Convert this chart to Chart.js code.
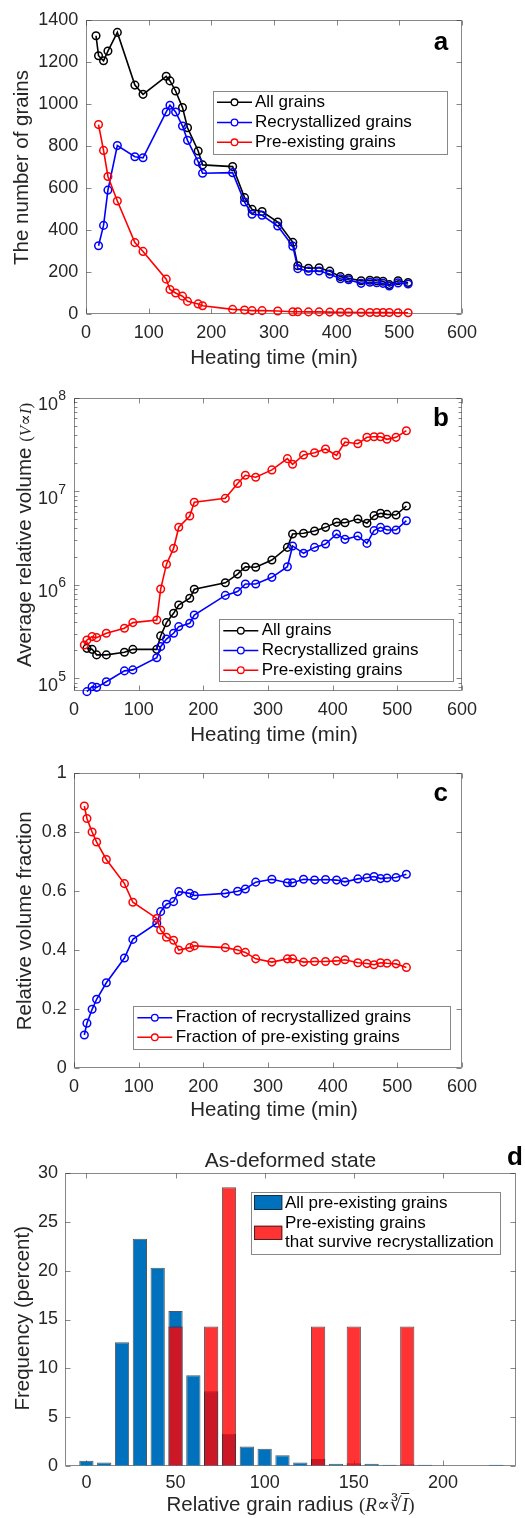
<!DOCTYPE html>
<html><head><meta charset="utf-8">
<script src="https://cdn.jsdelivr.net/npm/chart.js@4.4.1/dist/chart.umd.min.js"></script>
<style>
html,body{margin:0;padding:0;background:#fff;}
#wrap{position:relative;width:525px;height:1518px;overflow:hidden;background:#fff;}
canvas{position:absolute;left:0;}
</style></head><body>
<div id="wrap">
<canvas id="ca" width="525" height="372" style="top:0px"></canvas>
<canvas id="cb" width="525" height="372" style="top:372px"></canvas>
<canvas id="cc" width="525" height="376" style="top:744px"></canvas>
<canvas id="cd" width="525" height="398" style="top:1120px"></canvas>
</div>
<script>
// ---------------- data ----------------
const heatingTime = [16,20,28,35,50,78,91,128,134,143,154,162,179,186,234,253,265,281,306,330,338,355,372,389,406,419,439,453,464,474,484,498,514];

// panel a: number of grains
const grainsAll     = [1325,1230,1206,1252,1341,1090,1046,1132,1110,1062,983,887,776,710,702,554,498,488,438,341,230,218,220,204,178,170,158,161,158,156,140,158,150];
const grainsRecryst = [null,325,422,590,802,749,744,962,994,962,895,827,725,670,673,533,475,470,419,323,216,204,205,190,168,163,146,151,149,146,133,148,143];
const grainsPre     = [null,902,779,655,538,340,298,166,117,100,85,60,48,39,22,19,16,16,14,11,11,10,10,9,8,8,7,7,7,7,7,6,6];

// panel b: average relative volume
const volAll     = [null,2.09e5,2.04e5,1.78e5,1.78e5,1.90e5,2.04e5,2.04e5,2.84e5,3.94e5,4.95e5,6.08e5,7.17e5,8.95e5,1.05e6,1.30e6,1.56e6,1.54e6,1.84e6,2.51e6,3.49e6,3.55e6,3.76e6,4.11e6,4.65e6,4.61e6,5.05e6,4.54e6,5.48e6,5.81e6,5.66e6,5.57e6,6.95e6];
const volRecryst = [null,7.2e4,8.15e4,8.0e4,9.2e4,1.20e5,1.23e5,1.66e5,2.18e5,2.63e5,3.03e5,3.57e5,3.87e5,4.75e5,7.7e5,8.45e5,1.02e6,1.02e6,1.20e6,1.56e6,2.60e6,2.17e6,2.51e6,2.73e6,3.49e6,3.06e6,3.32e6,2.77e6,3.79e6,4.11e6,3.85e6,3.85e6,4.84e6];
const volPre     = [2.27e5,2.57e5,2.79e5,2.72e5,3.03e5,3.43e5,3.94e5,4.2e5,9.0e5,1.66e6,2.45e6,4.12e6,5.44e6,7.61e6,8.39e6,1.21e7,1.48e7,1.41e7,1.69e7,2.23e7,1.94e7,2.44e7,2.58e7,2.83e7,2.42e7,3.36e7,3.22e7,3.77e7,3.83e7,3.83e7,3.59e7,3.77e7,4.44e7];
const logDecades = [1e5,1e6,1e7,1e8];

// panel c: relative volume fraction
const fracRecryst = [0.113,0.153,0.200,0.234,0.290,0.374,0.437,0.492,0.531,0.556,0.565,0.599,0.593,0.586,0.593,0.600,0.608,0.631,0.641,0.629,0.629,0.641,0.638,0.640,0.638,0.632,0.642,0.646,0.650,0.643,0.645,0.647,0.658];
const fracPre     = [0.889,0.847,0.801,0.767,0.708,0.626,0.563,0.508,0.469,0.444,0.434,0.401,0.409,0.415,0.409,0.401,0.393,0.371,0.360,0.371,0.371,0.360,0.362,0.362,0.364,0.368,0.358,0.355,0.351,0.358,0.356,0.354,0.342];

// panel d: histogram of relative grain radius
const radiusBins  = [0,10,20,30,40,50,60,70,80,90,100,110,120,130,140,150,160,170,180,190,200,210,220,230];
const freqAllPre  = [0.51,0.34,12.66,23.29,20.3,15.87,9.27,7.63,3.28,1.98,1.74,1.06,0.34,0.69,0.2,0.24,0.2,0.1,0.14,0.1,0,0,0,0.1];
const freqSurvive = [0,0,0,0,0,14.29,0,14.29,28.57,0,0,0,0,14.29,0,14.29,0,0,14.29,0,0,0,0,0];

// ---------------- styling ----------------
const FONT = "'Liberation Sans', Arial, Helvetica, sans-serif";
const SERIF = "'Liberation Serif', 'DejaVu Serif', 'Times New Roman', serif";
const TXT = '#262626';
const AXC = 'rgba(38,38,38,0.55)';
const TICK = 5;
const TF = 18, LF = 20.5, GF = 17;
const W = 525;

function pts(xs, ys) { return xs.map((x, i) => ({x, y: ys[i]})); }

function lineDS(label, color, values, order) {
  return { label, data: pts(heatingTime, values), borderColor: color, backgroundColor: color,
    borderWidth: 1.6, pointRadius: 3.8, pointHoverRadius: 3.8, pointBorderWidth: 1.5,
    pointBackgroundColor: 'rgba(0,0,0,0)', pointBorderColor: color, tension: 0, order, clip: false };
}

function drawParts(ctx, parts, cx, base, rotate) {
  ctx.save();
  ctx.fillStyle = TXT; ctx.textBaseline = 'alphabetic'; ctx.textAlign = 'left';
  let w = 0;
  parts.forEach(p => { ctx.font = p.f; p.w = ctx.measureText(p.t).width; w += p.w; });
  if (rotate) { ctx.translate(base, cx); ctx.rotate(-Math.PI / 2); ctx.translate(-w / 2, 0); }
  else ctx.translate(cx - w / 2, base);
  let x = 0;
  parts.forEach(p => {
    ctx.font = p.f; ctx.fillText(p.t, x, p.dy || 0); p.x = x; x += p.w;
  });
  parts.forEach((p, i) => {
    if (p.overline) {
      const prev = parts[i - 1];
      ctx.font = prev.f;
      const asc = ctx.measureText(prev.t).actualBoundingBoxAscent;
      ctx.strokeStyle = TXT; ctx.lineWidth = 1;
      ctx.beginPath(); ctx.moveTo(prev.x + prev.w - 1, -asc + 0.5); ctx.lineTo(p.x + p.w + 1, -asc + 0.5); ctx.stroke();
    }
  });
  ctx.restore();
}

const matlab = {
  id: 'matlab',
  beforeDatasetsDraw(chart, args, o) {
    const {ctx, chartArea: a} = chart;
    const xs = chart.scales.x, ys = chart.scales.y;
    ctx.save();
    ctx.strokeStyle = AXC; ctx.lineWidth = 1;
    const L = Math.round(a.left) + 0.5, R = Math.round(a.right) - 0.5, T = Math.round(a.top) + 0.5, B = Math.round(a.bottom) - 0.5;
    ctx.beginPath();
    ctx.rect(L, T, R - L, B - T);
    xs.ticks.forEach(t => {
      if (t.value < xs.min || t.value > xs.max) return;
      const p = Math.round(xs.getPixelForValue(t.value)) + 0.5;
      ctx.moveTo(p, B); ctx.lineTo(p, B - TICK);
      ctx.moveTo(p, T); ctx.lineTo(p, T + TICK);
    });
    let yt;
    if (ys.type === 'logarithmic') {
      yt = [];
      for (let e = Math.floor(Math.log10(ys.min)); e <= Math.ceil(Math.log10(ys.max)); e++)
        for (let m = 1; m <= 9; m++) { const v = m * Math.pow(10, e); if (v >= ys.min && v <= ys.max * 1.000001) yt.push({v, major: m === 1}); }
    } else yt = ys.ticks.map(t => ({v: t.value, major: true}));
    yt.forEach(t => {
      const p = Math.round(ys.getPixelForValue(t.v)) + 0.5;
      const len = t.major ? TICK : 3;
      ctx.moveTo(L, p); ctx.lineTo(L + len, p);
      ctx.moveTo(R, p); ctx.lineTo(R - len, p);
    });
    ctx.stroke();
    ctx.restore();
  },
  afterDraw(chart, args, o) {
    const {ctx, chartArea: a} = chart;
    const ys = chart.scales.y;
    const oy = o.oy;
    ctx.save();
    if (o.logLabels) {
      ctx.fillStyle = TXT; ctx.textAlign = 'left'; ctx.textBaseline = 'alphabetic';
      o.logLabels.forEach(v => {
        const y = ys.getPixelForValue(v);
        const e = String(Math.round(Math.log10(v)));
        const right = a.left - 8;
        ctx.font = `14px ${FONT}`; const ew = ctx.measureText(e).width;
        ctx.fillText(e, right - ew, y + 2.3);
        ctx.font = `${TF}px ${FONT}`; const bw = ctx.measureText('10').width;
        ctx.fillText('10', right - ew - bw - 0.3, y + 12.3);
      });
    }
    if (o.legend) {
      const g = o.legend;
      ctx.fillStyle = '#fff'; ctx.strokeStyle = AXC; ctx.lineWidth = 1;
      const bx = Math.round(g.box[0]) + 0.5, by = Math.round(g.box[1] - oy) + 0.5;
      const bw = Math.round(g.box[2] - g.box[0]), bh = Math.round(g.box[3] - g.box[1]);
      ctx.fillRect(bx, by, bw, bh); ctx.strokeRect(bx, by, bw, bh);
      const dss = chart.data.datasets;
      dss.forEach((ds, i) => {
        const ry = g.rows[i] - oy;
        if (g.swatch) {
          const s = g.swatch[i];
          ctx.fillStyle = ds.backgroundColor; ctx.fillRect(g.sx[0], s[0] - oy, g.sx[1] - g.sx[0], s[1] - s[0]);
          ctx.strokeStyle = 'rgba(30,30,30,0.8)'; ctx.lineWidth = 1;
          ctx.strokeRect(g.sx[0] + 0.5, s[0] - oy + 0.5, g.sx[1] - g.sx[0] - 1, s[1] - s[0] - 1);
        } else {
          ctx.strokeStyle = ds.borderColor; ctx.lineWidth = 1.5;
          ctx.beginPath(); ctx.moveTo(g.line[0], ry); ctx.lineTo(g.line[1], ry); ctx.stroke();
          ctx.beginPath(); ctx.arc((g.line[0] + g.line[1]) / 2, ry, 3.3, 0, Math.PI * 2);
          ctx.fillStyle = '#fff'; ctx.fill(); ctx.lineWidth = 1.3; ctx.stroke();
        }
        ctx.fillStyle = '#000'; ctx.font = `${GF}px ${FONT}`; ctx.textAlign = 'left'; ctx.textBaseline = 'middle';
        const lines = Array.isArray(g.texts ? g.texts[i] : null) ? g.texts[i] : [ds.label];
        lines.forEach((t, k) => ctx.fillText(t, g.textX, (g.textRows ? g.textRows[i][k] : g.rows[i]) - oy));
      });
    }
    if (o.xlabel) drawParts(ctx, o.xlabel.parts, o.xlabel.cx, o.xlabel.base - oy, false);
    if (o.ylabel) drawParts(ctx, o.ylabel.parts, o.ylabel.cy - oy, o.ylabel.base, true);
    if (o.title) drawParts(ctx, o.title.parts, o.title.cx, o.title.base - oy, false);
    if (o.letter) {
      ctx.fillStyle = '#000'; ctx.font = `bold 26px ${FONT}`; ctx.textBaseline = 'alphabetic';
      ctx.textAlign = o.letter.align || 'center';
      ctx.fillText(o.letter.t, o.letter.x, o.letter.base - oy);
    }
    ctx.restore();
  }
};

const plainTick = v => String(Math.round(v * 1000) / 1000);

function linAxis(min, max, step, pad) {
  return { type: 'linear', min, max, offset: false,
    grid: {display: false, drawTicks: false}, border: {display: false},
    ticks: { stepSize: step, padding: pad, color: TXT, font: {family: FONT, size: TF}, autoSkip: false, maxRotation: 0, includeBounds: false, callback: plainTick } };
}

function mkChart(id, top, H, area, type, data, sx, sy, mopts) {
  sx.afterFit = s => { s.height = H - (area.bottom - top); };
  sy.afterFit = s => { s.width = area.left; };
  mopts.oy = top;
  return new Chart(document.getElementById(id), {
    type, data,
    options: {
      responsive: false, animation: false, devicePixelRatio: 1, events: [],
      layout: { padding: { top: area.top - top, right: W - area.right, bottom: 0, left: 0 } },
      scales: { x: sx, y: sy },
      plugins: { legend: {display: false}, tooltip: {enabled: false}, title: {display: false}, matlab: mopts }
    },
    plugins: [matlab]
  });
}

const xlabHeat = base => ({ cx: 274, base, parts: [{t: 'Heating time (min)', f: `${LF}px ${FONT}`}] });

// ---------------- panel a ----------------
mkChart('ca', 0, 372, {left: 86, right: 462, top: 20, bottom: 314}, 'line',
  { datasets: [
    lineDS('All grains', '#000000', grainsAll, 2),
    lineDS('Recrystallized grains', '#0000ff', grainsRecryst, 1),
    lineDS('Pre-existing grains', '#ff0000', grainsPre, 0) ] },
  linAxis(0, 600, 100, 7.8), linAxis(0, 1400, 200, 7.7),
  { legend: { box: [212.7, 90.7, 446.7, 153.3], rows: [102.3, 122.5, 142.3], line: [217, 252], textX: 255 },
    xlabel: xlabHeat(363.5),
    ylabel: { cy: 167.5, base: 28, parts: [{t: 'The number of grains', f: `${LF}px ${FONT}`}] },
    letter: { t: 'a', x: 441, base: 50 } });

// ---------------- panel b ----------------
const sbY = { type: 'logarithmic', min: 7.37e4, max: 1e8, offset: false,
  grid: {display: false, drawTicks: false}, border: {display: false},
  ticks: { display: false, autoSkip: false } };
mkChart('cb', 372, 372, {left: 74, right: 462, top: 397.7, bottom: 690.7}, 'line',
  { datasets: [
    lineDS('All grains', '#000000', volAll, 2),
    lineDS('Recrystallized grains', '#0000ff', volRecryst, 1),
    lineDS('Pre-existing grains', '#ff0000', volPre, 0) ] },
  linAxis(0, 600, 100, 8.2), sbY,
  { logLabels: logDecades,
    legend: { box: [219.3, 618.7, 453.3, 681], rows: [630.7, 650.5, 670.2], line: [223.3, 258.3], textX: 261.7 },
    xlabel: xlabHeat(741),
    ylabel: { cy: 535, base: 31, parts: [
      {t: 'Average relative volume ', f: `${LF}px ${FONT}`},
      {t: '(', f: `17px ${SERIF}`}, {t: 'V', f: `italic 17px ${SERIF}`}, {t: '\u221D', f: `17px ${SERIF}`},
      {t: 'I', f: `italic 17px ${SERIF}`}, {t: ')', f: `17px ${SERIF}`} ] },
    letter: { t: 'b', x: 441, base: 426 } });

// ---------------- panel c ----------------
mkChart('cc', 744, 376, {left: 74, right: 462, top: 773.3, bottom: 1068.3}, 'line',
  { datasets: [
    lineDS('Fraction of recrystallized grains', '#0000ff', fracRecryst, 1),
    lineDS('Fraction of pre-existing grains', '#ff0000', fracPre, 0) ] },
  linAxis(0, 600, 100, 8), linAxis(0, 1, 0.2, 7.3),
  { legend: { box: [133.3, 1005.7, 450.7, 1049], rows: [1017.7, 1037.3], line: [137.3, 172.3], textX: 175.7 },
    xlabel: xlabHeat(1116.2),
    ylabel: { cy: 920.8, base: 31, parts: [{t: 'Relative volume fraction', f: `${LF}px ${FONT}`}] },
    letter: { t: 'c', x: 440.7, base: 800.7 } });

// ---------------- panel d ----------------
const barDS = (label, values, bg, order) => ({
  label, data: pts(radiusBins, values), backgroundColor: bg,
  borderColor: 'rgba(30,30,30,0.75)', borderWidth: c => (c.raw && c.raw.y > 0) ? 1 : 0,
  grouped: false, categoryPercentage: 0.8, barPercentage: 1.0, order });
mkChart('cd', 1120, 398, {left: 65, right: 516, top: 1173.3, bottom: 1465.7}, 'bar',
  { datasets: [
    barDS('All pre-existing grains', freqAllPre, '#0072BD', 1),
    barDS('Pre-existing grains that survive recrystallization', freqSurvive, 'rgba(255,0,0,0.8)', 0) ] },
  linAxis(-12, 241, 50, 6.5), linAxis(0, 30, 5, 7),
  { legend: { box: [250.7, 1191.7, 499.3, 1253.3], rows: [1203.3, 1233], swatch: [[1195, 1210], [1225.7, 1240]], sx: [254, 282.3], textX: 285,
      texts: [['All pre-existing grains'], ['Pre-existing grains', 'that survive recrystallization']],
      textRows: [[1203.3], [1223.3, 1242.7]] },
    xlabel: { cx: 290.5, base: 1511, parts: [
      {t: 'Relative grain radius ', f: `${LF}px ${FONT}`},
      {t: '(', f: `19px ${SERIF}`}, {t: 'R', f: `italic 19px ${SERIF}`}, {t: '\u221D', f: `19px ${SERIF}`},
      {t: '\u221B', f: `19px ${SERIF}`}, {t: 'I', f: `italic 19px ${SERIF}`, overline: true}, {t: ')', f: `19px ${SERIF}`} ] },
    ylabel: { cy: 1318.3, base: 29.4, parts: [{t: 'Frequency (percent)', f: `${LF}px ${FONT}`}] },
    title: { cx: 290.5, base: 1167.3, parts: [{t: 'As-deformed state', f: `21px ${FONT}`}] },
    letter: { t: 'd', x: 507, base: 1165, align: 'left' } });
</script>
</body></html>
